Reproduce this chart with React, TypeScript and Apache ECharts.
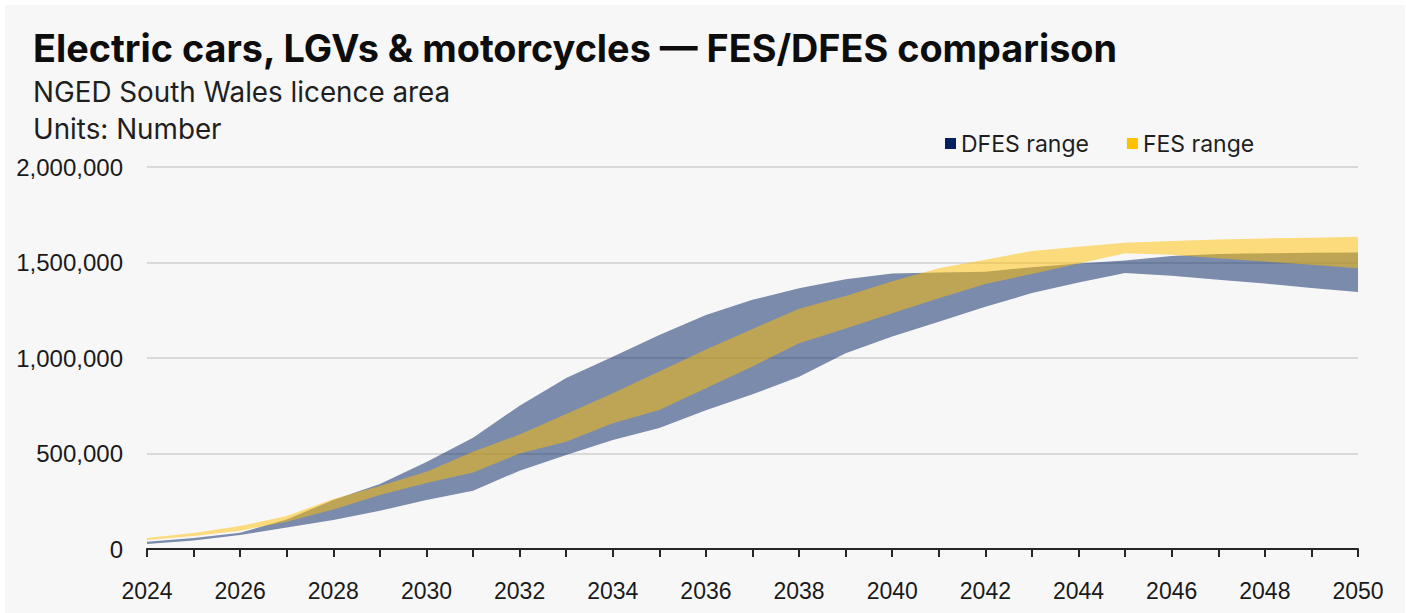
import React, { useEffect, useRef } from "react";
import * as echarts from "echarts";

const years = [
  "2024", "2025", "2026", "2027", "2028", "2029", "2030", "2031", "2032",
  "2033", "2034", "2035", "2036", "2037", "2038", "2039", "2040", "2041",
  "2042", "2043", "2044", "2045", "2046", "2047", "2048", "2049", "2050",
];

const dfesLower = [
  26000, 44000, 73000, 113000, 152000, 200000, 257000, 305000, 410000,
  492000, 571000, 634000, 727000, 810000, 902000, 1025000, 1112000, 1190000,
  1268000, 1340000, 1395000, 1445000, 1430000, 1410000, 1390000, 1367000, 1345000,
];
const dfesUpper = [
  38000, 57000, 85000, 155000, 257000, 340000, 455000, 583000, 750000,
  895000, 1007000, 1120000, 1225000, 1305000, 1365000, 1412000, 1443000, 1448000,
  1452000, 1475000, 1495000, 1510000, 1534000, 1545000, 1548000, 1551000, 1553000,
];
const fesLower = [
  47000, 68000, 96000, 143000, 207000, 283000, 345000, 400000, 500000,
  562000, 658000, 728000, 841000, 955000, 1077000, 1155000, 1234000, 1313000,
  1388000, 1440000, 1495000, 1548000, 1540000, 1522000, 1505000, 1488000, 1470000,
];
const fesUpper = [
  57000, 84000, 120000, 173000, 262000, 330000, 405000, 509000, 600000,
  707000, 815000, 929000, 1045000, 1152000, 1258000, 1324000, 1402000, 1470000,
  1515000, 1560000, 1583000, 1603000, 1613000, 1620000, 1626000, 1630000, 1635000,
];

const yTicks = { min: 0, max: 2000000, interval: 500000 };

const DFES_COLOR = "#002060";
const FES_COLOR = "#FFC000";
const FONT = "Inter, 'Noto Sans', sans-serif";
const AXIS_FONT = "'Liberation Sans', Arial, sans-serif";

export default function App() {
  const ref = useRef<HTMLDivElement>(null);

  useEffect(() => {
    document.body.style.margin = "0";
    if (!ref.current) return;
    const chart = echarts.init(ref.current, undefined, { renderer: "svg" });

    const band = (u: number[], l: number[]) => u.map((v, i) => v - l[i]);

    chart.setOption({
      animation: false,
      backgroundColor: "transparent",
      title: [
        {
          text: "Electric cars, LGVs & motorcycles \u2014 FES/DFES comparison",
          left: 33,
          top: 29,
          padding: 0,
          textStyle: { fontFamily: FONT, fontSize: 37.8, fontWeight: "bold", color: "#0d0d0d" },
        },
        {
          text: "NGED South Wales licence area",
          left: 33,
          top: 78,
          padding: 0,
          textStyle: { fontFamily: FONT, fontSize: 27.8, fontWeight: "normal", color: "#1f1f1f" },
        },
        {
          text: "Units: Number",
          left: 33,
          top: 115,
          padding: 0,
          textStyle: { fontFamily: FONT, fontSize: 27.8, fontWeight: "normal", color: "#1f1f1f" },
        },
      ],
      legend: {
        left: 945,
        top: 132,
        padding: 0,
        itemWidth: 11,
        itemHeight: 11,
        itemGap: 38,
        icon: "rect",
        textStyle: { fontFamily: FONT, fontSize: 23, color: "#1f1f1f" },
        data: [
          { name: "DFES range", itemStyle: { color: DFES_COLOR, opacity: 1 } },
          { name: "FES range", itemStyle: { color: FES_COLOR, opacity: 1 } },
        ],
      },
      grid: { left: 147, right: 48, top: 167, bottom: 64, containLabel: false },
      xAxis: {
        type: "category",
        data: years,
        boundaryGap: false,
        axisLine: { show: true, lineStyle: { color: "#262626", width: 2 } },
        axisTick: { show: true, interval: 0, length: 8, lineStyle: { color: "#262626", width: 2 } },
        axisLabel: {
          interval: 1,
          margin: 30,
          fontFamily: AXIS_FONT,
          fontSize: 23,
          color: "#1a1a1a",
        },
        splitLine: { show: false },
      },
      yAxis: {
        type: "value",
        min: yTicks.min,
        max: yTicks.max,
        interval: yTicks.interval,
        axisLine: { show: false },
        axisTick: { show: false },
        axisLabel: {
          margin: 24,
          fontFamily: AXIS_FONT,
          fontSize: 24,
          color: "#1a1a1a",
          formatter: (v: number) => v.toLocaleString("en-GB"),
        },
        splitLine: { show: true, lineStyle: { color: "#d9d9d9", width: 2 } },
      },
      series: [
        {
          name: "dfesBase",
          type: "line",
          stack: "dfes",
          data: dfesLower,
          symbol: "none",
          lineStyle: { width: 0, opacity: 0 },
          silent: true,
        },
        {
          name: "DFES range",
          type: "line",
          stack: "dfes",
          data: band(dfesUpper, dfesLower),
          symbol: "none",
          lineStyle: { width: 0, opacity: 0 },
          itemStyle: { color: DFES_COLOR },
          areaStyle: { color: DFES_COLOR, opacity: 0.5 },
        },
        {
          name: "fesBase",
          type: "line",
          stack: "fes",
          data: fesLower,
          symbol: "none",
          lineStyle: { width: 0, opacity: 0 },
          silent: true,
        },
        {
          name: "FES range",
          type: "line",
          stack: "fes",
          data: band(fesUpper, fesLower),
          symbol: "none",
          lineStyle: { width: 0, opacity: 0 },
          itemStyle: { color: FES_COLOR },
          areaStyle: { color: FES_COLOR, opacity: 0.5 },
        },
      ],
    });

    return () => chart.dispose();
  }, []);

  return (
    <div style={{ position: "fixed", left: 0, top: 0, width: 1406, height: 613, background: "#ffffff" }}>
      <div style={{ position: "absolute", left: 5, top: 5, width: 1400, height: 608, background: "#f7f7f7" }} />
      <div ref={ref} style={{ position: "absolute", left: 0, top: 0, width: 1406, height: 613 }} />
    </div>
  );
}
